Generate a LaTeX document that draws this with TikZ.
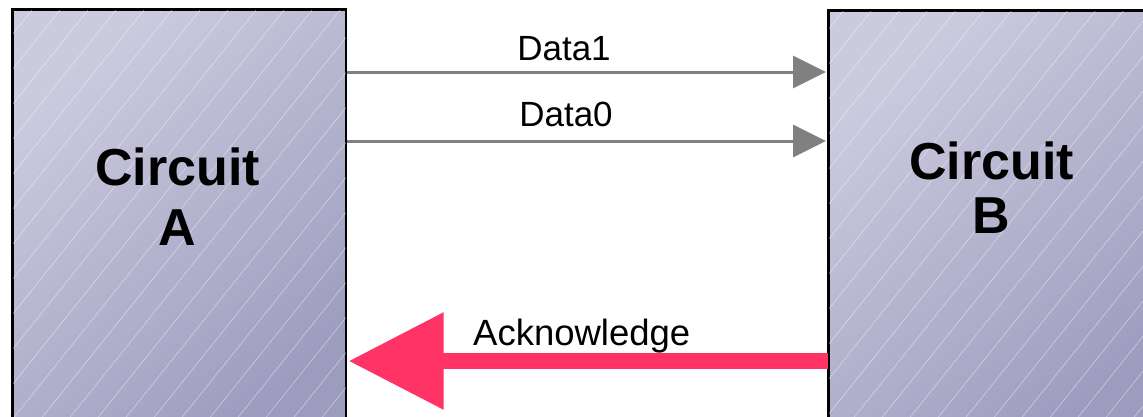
\documentclass[tikz,border=0pt]{standalone}
\usepackage{fontspec}
\setmainfont{Liberation Sans}
\usetikzlibrary{arrows.meta}
\definecolor{boxlight}{RGB}{204,203,222}
\definecolor{boxdark}{RGB}{157,156,191}
\definecolor{ackpink}{RGB}{255,51,102}
\definecolor{datagray}{RGB}{128,128,128}
\begin{document}
\begin{tikzpicture}[x=1pt,y=-1pt,
  box/.style={draw=black, line width=1.6pt, rectangle, inner sep=0pt, anchor=north west,
    top color=boxlight, bottom color=boxdark, shading angle=40},
  hatch/.style={draw=white, line width=0.6pt, opacity=0.45},
  circtext/.style={font=\fontsize{52}{60}\selectfont\bfseries, anchor=base, inner sep=0pt},
  sigtext/.style={font=\fontsize{35}{40}\selectfont, anchor=base, inner sep=0pt},
  dataarrow/.style={draw=datagray, line width=3pt, -{Triangle[length=33pt,width=32pt]}, datagray, shorten >=2pt},
  ackarrow/.style={draw=ackpink, line width=16pt, -{Triangle[length=95pt,width=93pt]}, ackpink, shorten >=2pt}]
\useasboundingbox (0,0) rectangle (1143,416);
\clip (0,0) rectangle (1143,416);
\node[box, minimum width=333pt, minimum height=430pt] (A) at (12,9) {};
\node[box, minimum width=340pt, minimum height=430pt] (B) at (828,10) {};
\begin{scope}
  \clip (A.north west) rectangle (A.south east) (B.north west) rectangle (B.south east);
  \foreach \x in {-424,-396,...,1200} \draw[hatch] (\x,440) -- ++(352,-440);
\end{scope}
\draw[line width=1.6pt] (A.north west) rectangle (A.south east);
\draw[line width=1.6pt] (B.north west) rectangle (B.south east);
\node[circtext] (a1) at (177.5,185) {Circuit};
\node[circtext] (a2) at (177.5,245) {A};
\node[circtext] (b1) at (991.5,179) {Circuit};
\node[circtext] (b2) at (991.5,233) {B};
\coordinate (d1) at (0,72);
\coordinate (d0) at (0,141);
\coordinate (ak) at (0,361);
\draw[dataarrow] (A.east |- d1) -- (B.west |- d1);
\draw[dataarrow] (A.east |- d0) -- (B.west |- d0);
\draw[ackarrow] (B.west |- ak) -- (A.east |- ak);
\node[sigtext] (t1) at (564,60) {Data1};
\node[sigtext] (t0) at (566,126) {Data0};
\node[sigtext, anchor=base west, font=\fontsize{36.5}{40}\selectfont] (tk) at (473,345) {Acknowledge};
\end{tikzpicture}
\end{document}
